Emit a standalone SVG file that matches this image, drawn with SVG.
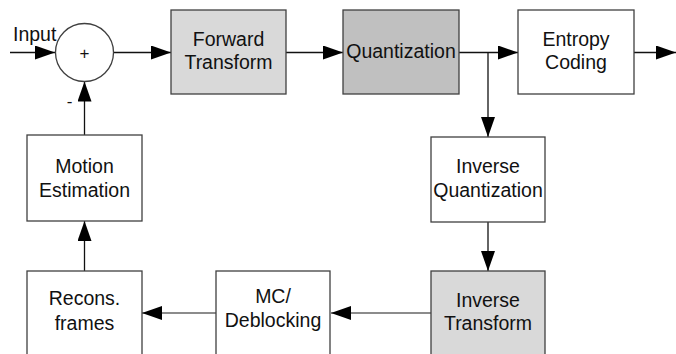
<svg xmlns="http://www.w3.org/2000/svg" width="676" height="354" viewBox="0 0 676 354">
<style>
.box{stroke:#404040;stroke-width:1.3}
.w{fill:#ffffff}
.lg{fill:#d9d9d9}
.dg{fill:#c0c0c0}
.t{font-family:"Liberation Sans",Arial,sans-serif;font-size:19.5px;fill:#111;text-anchor:middle}
.ln{fill:none;stroke:#111;stroke-width:1.3}
.lb{fill:none;stroke:#666;stroke-width:1.6}
</style>
<defs>
<marker id="ah" markerUnits="userSpaceOnUse" markerWidth="20" markerHeight="14" refX="20" refY="7" orient="auto">
<path d="M0,0 L20,7 L0,14 z" fill="#000"/>
</marker>
</defs>
<rect width="676" height="354" fill="#fff"/>
<g id="connectors">
<line class="ln" x1="10" y1="52.5" x2="55" y2="52.5" marker-end="url(#ah)"/>
<line class="ln" x1="113" y1="52.5" x2="171" y2="52.5" marker-end="url(#ah)"/>
<line class="ln" x1="286" y1="52.5" x2="343" y2="52.5" marker-end="url(#ah)"/>
<line class="ln" x1="459" y1="52.5" x2="518" y2="52.5" marker-end="url(#ah)"/>
<line class="ln" x1="488" y1="52.5" x2="488" y2="137" marker-end="url(#ah)"/>
<line class="ln" x1="634" y1="52.5" x2="676" y2="52.5" marker-end="url(#ah)"/>
<line class="ln" x1="488" y1="222" x2="488" y2="271" marker-end="url(#ah)"/>
<line class="lb" x1="431" y1="313" x2="331" y2="313" marker-end="url(#ah)"/>
<line class="lb" x1="216" y1="313" x2="142" y2="313" marker-end="url(#ah)"/>
<line class="ln" x1="84.5" y1="271" x2="84.5" y2="221" marker-end="url(#ah)"/>
<line class="ln" x1="84.5" y1="135" x2="84.5" y2="81.5" marker-end="url(#ah)"/>
</g>
<g id="input-label"><text class="t" x="13" y="41" style="text-anchor:start">Input</text></g>
<g id="adder">
<circle cx="84.5" cy="52.5" r="29" fill="#fff" stroke="#404040" stroke-width="1.3"/>
<text class="t" x="84.5" y="59" style="font-size:17px">+</text>
<text class="t" x="69.5" y="107" style="font-size:17px">-</text>
</g>
<g id="forward-transform">
<rect class="box lg" x="171" y="10" width="115" height="84"/>
<text class="t" x="228.5" y="46">Forward</text>
<text class="t" x="228.5" y="69">Transform</text>
</g>
<g id="quantization">
<rect class="box dg" x="343" y="10" width="116" height="84"/>
<text class="t" x="401" y="58">Quantization</text>
</g>
<g id="entropy-coding">
<rect class="box w" x="518" y="10" width="116" height="84"/>
<text class="t" x="576" y="46">Entropy</text>
<text class="t" x="576" y="69">Coding</text>
</g>
<g id="inverse-quantization">
<rect class="box w" x="431" y="137" width="114" height="85"/>
<text class="t" x="488" y="173">Inverse</text>
<text class="t" x="488" y="197">Quantization</text>
</g>
<g id="inverse-transform">
<rect class="box lg" x="431" y="271" width="114" height="100"/>
<text class="t" x="488" y="307">Inverse</text>
<text class="t" x="488" y="330">Transform</text>
</g>
<g id="mc-deblocking">
<rect class="box w" x="216" y="271" width="114" height="100"/>
<text class="t" x="273" y="303">MC/</text>
<text class="t" x="273" y="327">Deblocking</text>
</g>
<g id="recons-frames">
<rect class="box w" x="27" y="271" width="115" height="100"/>
<text class="t" x="84.5" y="305">Recons.</text>
<text class="t" x="84.5" y="330">frames</text>
</g>
<g id="motion-estimation">
<rect class="box w" x="27" y="135" width="115" height="86"/>
<text class="t" x="84.5" y="173">Motion</text>
<text class="t" x="84.5" y="197">Estimation</text>
</g>
</svg>
